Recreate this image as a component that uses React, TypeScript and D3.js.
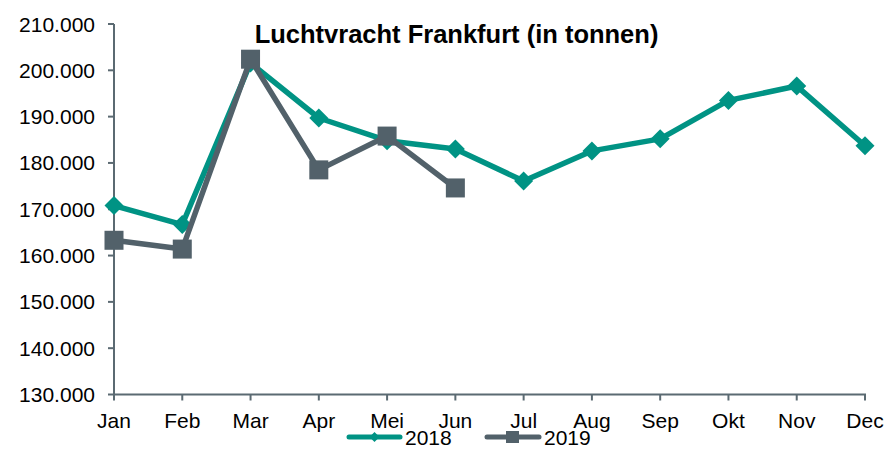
import React from "react";
import * as d3 from "d3";

const months = ["Jan", "Feb", "Mar", "Apr", "Mei", "Jun", "Jul", "Aug", "Sep", "Okt", "Nov", "Dec"];
const values2018 = [170800, 166700, 201600, 189700, 184800, 183000, 176100, 182600, 185200, 193500, 196600, 183700];
const values2019 = [163300, 161400, 202400, 178500, 185800, 174600];
const yTicks = [130000, 140000, 150000, 160000, 170000, 180000, 190000, 200000, 210000];
const seriesNames = ["2018", "2019"];
const title = "Luchtvracht Frankfurt (in tonnen)";

const W = 889, H = 450;
const TEAL = "#009384";
const GRAY = "#52616a";
const AXIS = "#5b6a72";
const FONT = "'Liberation Sans', Arial, sans-serif";

export default function App() {
  const x = d3.scalePoint<string>().domain(months).range([114, 865]);
  const y = d3.scaleLinear().domain([130000, 210000]).range([394.5, 24]);
  const line = d3.line<number>().x((_, i) => x(months[i])!).y((d) => y(d));
  const fmt = (v: number) => d3.format(",")(v).replace(/,/g, ".");
  const diamond = (cx: number, cy: number, r: number) =>
    `M${cx},${cy - r}L${cx + r},${cy}L${cx},${cy + r}L${cx - r},${cy}Z`;

  return (
    <svg width={W} height={H} style={{ position: "absolute", left: 0, top: 0, fontFamily: FONT }}>
      <rect width={W} height={H} fill="#fff" />
      {/* axes */}
      <line x1={114} x2={114} y1={24} y2={394.5} stroke={AXIS} strokeWidth={2} />
      <line x1={114} x2={866} y1={394.5} y2={394.5} stroke={AXIS} strokeWidth={2} />
      {yTicks.map((t) => (
        <g key={t}>
          <line x1={108} x2={114} y1={y(t)} y2={y(t)} stroke={AXIS} strokeWidth={2} />
          <text x={95} y={y(t)} dy="0.36em" textAnchor="end" fontSize={21} fill="#000">
            {fmt(t)}
          </text>
        </g>
      ))}
      {months.map((m) => (
        <g key={m}>
          <line x1={x(m)} x2={x(m)} y1={394.5} y2={400.5} stroke={AXIS} strokeWidth={2} />
          <text x={x(m)} y={427.5} textAnchor="middle" fontSize={21} fill="#000">
            {m}
          </text>
        </g>
      ))}
      {/* 2018 */}
      <path d={line(values2018)!} fill="none" stroke={TEAL} strokeWidth={5.5} strokeLinejoin="round" />
      {values2018.map((v, i) => (
        <path key={i} d={diamond(x(months[i])!, y(v), 9.5)} fill={TEAL} />
      ))}
      {/* 2019 */}
      <path d={line(values2019)!} fill="none" stroke={GRAY} strokeWidth={5.5} strokeLinejoin="round" />
      {values2019.map((v, i) => (
        <rect key={i} x={x(months[i])! - 9.5} y={y(v) - 9.5} width={19} height={19} fill={GRAY} />
      ))}
      {/* title */}
      <text x={456.5} y={43} textAnchor="middle" fontSize={25.5} fontWeight="bold" fill="#000">
        {title}
      </text>
      {/* legend */}
      <line x1={349} x2={400} y1={437} y2={437} stroke={TEAL} strokeWidth={5} strokeLinecap="round" />
      <path d={diamond(374.5, 437, 5)} fill={TEAL} />
      <text x={405} y={444.5} fontSize={21} fill="#000">{seriesNames[0]}</text>
      <line x1={487} x2={539} y1={437} y2={437} stroke={GRAY} strokeWidth={5} strokeLinecap="round" />
      <rect x={506} y={431} width={13} height={12} fill={GRAY} />
      <text x={544} y={444.5} fontSize={21} fill="#000">{seriesNames[1]}</text>
    </svg>
  );
}
